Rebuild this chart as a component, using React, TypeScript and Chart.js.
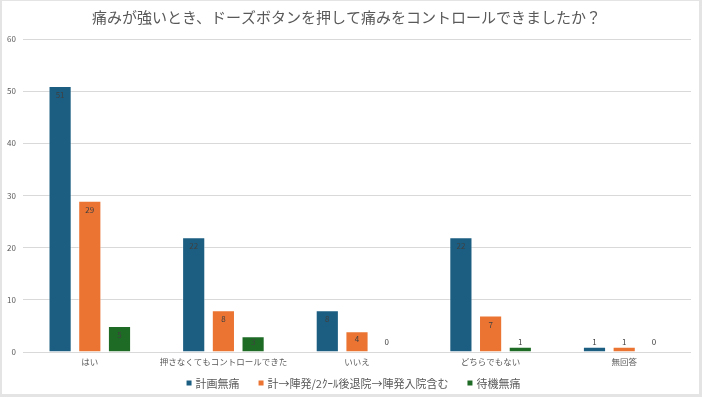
import React, { useEffect, useRef } from "react";
import { Chart, registerables } from "chart.js";

Chart.register(...registerables);

const TITLE = "痛みが強いとき、ドーズボタンを押して痛みをコントロールできましたか？";
const categories = ["はい", "押さなくてもコントロールできた", "いいえ", "どちらでもない", "無回答"];
const seriesNames = ["計画無痛", "計→陣発/2ｸｰﾙ後退院→陣発入院含む", "待機無痛"];
const keikakuMutsu = [51, 22, 8, 22, 1];
const jinpatsuNyuin = [29, 8, 4, 7, 1];
const taikiMutsu = [5, 3, 0, 1, 0];
const yMin = 0;
const yMax = 60;
const yStep = 10;
const colors = ["#1B5E82", "#EB7433", "#1E6B26"];

const FONT = '"Noto Sans CJK JP", "Noto Sans", sans-serif';

const valueLabelPlugin = {
  id: "valueLabels",
  afterDatasetsDraw(chart: any) {
    const ctx = chart.ctx;
    ctx.save();
    ctx.font = `8px ${FONT}`;
    ctx.fillStyle = "#404040";
    ctx.textAlign = "center";
    ctx.textBaseline = "middle";
    chart.data.datasets.forEach((ds: any, di: number) => {
      const meta = chart.getDatasetMeta(di);
      meta.data.forEach((el: any, i: number) => {
        const v = ds.data[i];
        const { x, y, base } = el.getProps(["x", "y", "base"], true);
        const h = base - y;
        let ty: number;
        if (h >= 12) ty = y + Math.min(9, h / 2 - 2);
        else ty = Math.min(y - 5, base - 10);
        ctx.fillText(String(v), x, ty);
      });
    });
    ctx.restore();
  },
};

const legendPlugin = {
  id: "customLegend",
  afterDraw(chart: any) {
    const ctx = chart.ctx;
    ctx.save();
    ctx.font = `11px ${FONT}`;
    ctx.textBaseline = "middle";
    ctx.textAlign = "left";
    const box = 5;
    const gap = 4;
    const spacing = 19;
    const items = chart.data.datasets.map((d: any) => ({ text: d.label, color: d.backgroundColor }));
    const widths = items.map((it: any) => ctx.measureText(it.text).width);
    const total =
      widths.reduce((a: number, w: number) => a + box + gap + w, 0) + spacing * (items.length - 1);
    let x = chart.width / 2 + 3 - total / 2;
    const cy = chart.height - 11;
    items.forEach((it: any, i: number) => {
      ctx.fillStyle = it.color;
      ctx.fillRect(x, cy - box / 2, box, box);
      ctx.fillStyle = "#595959";
      ctx.fillText(it.text, x + box + gap, cy + 0.5);
      x += box + gap + widths[i] + spacing;
    });
    ctx.restore();
  },
};

export default function App() {
  const canvasRef = useRef<HTMLCanvasElement | null>(null);

  useEffect(() => {
    if (!canvasRef.current) return;
    const seriesData = [keikakuMutsu, jinpatsuNyuin, taikiMutsu];
    const chart = new Chart(canvasRef.current, {
      type: "bar",
      data: {
        labels: categories,
        datasets: seriesNames.map((name, i) => ({
          label: name,
          data: seriesData[i],
          backgroundColor: colors[i],
          borderColor: "rgba(255,255,255,0.45)",
          borderWidth: 1,
          categoryPercentage: 0.667,
          barPercentage: 0.78,
        })),
      },
      options: {
        responsive: false,
        animation: false,
        devicePixelRatio: 1,
        events: [],
        layout: { padding: { left: 0, right: 8, top: 0, bottom: 28 } },
        plugins: {
          legend: { display: false },
          tooltip: { enabled: false },
          title: {
            display: true,
            text: TITLE,
            color: "#595959",
            font: { family: FONT, size: 15, weight: "normal", lineHeight: 1.2 },
            padding: { top: 7, bottom: 13 },
          },
        },
        scales: {
          x: {
            grid: { display: false, drawTicks: false },
            border: { display: false },
            ticks: {
              color: "#595959",
              font: { family: FONT, size: 8.5 },
              padding: 5,
              maxRotation: 0,
              autoSkip: false,
            },
            afterFit(s: any) {
              s.height = 14;
            },
          },
          y: {
            min: yMin,
            max: yMax,
            grid: { color: "#D9D9D9", lineWidth: 1, drawTicks: false },
            border: { display: false },
            ticks: {
              stepSize: yStep,
              color: "#595959",
              font: { family: FONT, size: 8 },
              padding: 7,
            },
            afterFit(s: any) {
              s.width = 21;
            },
          },
        },
      },
      plugins: [valueLabelPlugin, legendPlugin],
    } as any);
    return () => chart.destroy();
  }, []);

  return (
    <div
      style={{
        position: "fixed",
        left: 0,
        top: 0,
        width: 702,
        height: 397,
        background: "#E4E4E4",
      }}
    >
      <div
        style={{
          position: "absolute",
          left: 2,
          top: 1,
          width: 697,
          height: 393,
          background: "#FFFFFF",
        }}
      >
        <canvas ref={canvasRef} width={697} height={393} style={{ width: 697, height: 393, display: "block" }} />
      </div>
    </div>
  );
}
